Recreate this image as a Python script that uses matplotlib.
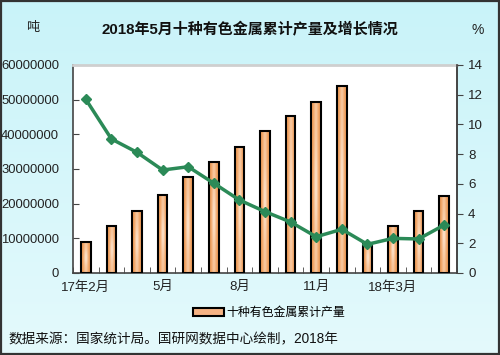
import numpy as np
import matplotlib
matplotlib.use("Agg")
import matplotlib.pyplot as plt
from matplotlib.patches import Rectangle
from matplotlib.colors import to_rgb

plt.rcParams['font.family'] = ['Liberation Sans', 'Noto Sans CJK SC', 'DejaVu Sans']

# ---- data ----
categories = ['17年2月', '3月', '4月', '5月', '6月', '7月', '8月', '9月', '10月',
              '11月', '12月', '18年2月', '3月', '4月', '5月']
production = [8850000, 13560000, 17970000, 22600000, 27800000, 32100000, 36300000,
              40900000, 45200000, 49400000, 53900000, 8700000, 13600000, 17900000, 22200000]
growth = [11.69, 9.02, 8.12, 6.93, 7.15, 6.04, 4.91, 4.13, 3.43, 2.44, 2.94,
          1.93, 2.33, 2.29, 3.23]
tick_idx = [0, 3, 6, 9, 12]
tick_labels = ['17年2月', '5月', '8月', '11月', '18年3月']
left_ticks = [0, 10000000, 20000000, 30000000, 40000000, 50000000, 60000000]
right_ticks = [0, 2, 4, 6, 8, 10, 12, 14]

title = '2018年5月十种有色金属累计产量及增长情况'
legend_label = '十种有色金属累计产量'
footer = '数据来源：国家统计局。国研网数据中心绘制，2018年'

fig = plt.figure(figsize=(5.0, 3.55), dpi=100)

# background gradient
bg = fig.add_axes([0, 0, 1, 1], zorder=-10)
bg.axis('off')
top_c = np.array(to_rgb('#c9f3f9'))
bot_c = np.array(to_rgb('#e4fafc'))
t = np.linspace(0, 1, 256)[:, None, None]
grad = top_c * (1 - t) + bot_c * t
grad = np.repeat(grad, 4, axis=1)
bg.imshow(grad, aspect='auto', extent=[0, 1, 0, 1])
bg.set_xlim(0, 1); bg.set_ylim(0, 1)
bg.add_patch(Rectangle((0.002, 0.003), 0.996, 0.994, fill=False, ec='#333333', lw=1.6,
                       transform=bg.transAxes))

ax = fig.add_axes([0.146, 0.231, 0.768, 0.586])
ax.set_facecolor('white')
x = np.arange(len(categories))
bw = 0.38
bars = ax.bar(x, production, width=bw, facecolor='none', edgecolor='black', lw=1.5, zorder=3)

# orange gradient for bars
edge_c = np.array(to_rgb('#ef9a55'))
mid_c = np.array(to_rgb('#fde3cc'))
xs = np.linspace(-1, 1, 40)
hx = np.exp(-(xs / 0.45) ** 2)
ys = np.linspace(-1, 1, 100)
hy = 0.6 + 0.4 * np.exp(-(ys / 0.5) ** 2)
w = (hx[None, :] * hy[:, None])[:, :, None]
img = edge_c * (1 - w) + mid_c * w
for r in bars:
    ax.imshow(img, aspect='auto', extent=[r.get_x(), r.get_x() + r.get_width(), 0, r.get_height()],
              zorder=2, interpolation='bilinear')

ax.set_xlim(-0.5, len(categories) - 0.5)
ax.set_ylim(0, 60000000)
ax.set_yticks(left_ticks)
ax.set_yticklabels([str(v) for v in left_ticks], fontsize=9.4, color='#222222')
ax.set_xticks(tick_idx)
ax.set_xticklabels(tick_labels, fontsize=9.6, color='#222222')
ax.set_xticks(np.arange(-0.5, len(categories), 1), minor=True)
ax.tick_params(axis='x', which='major', length=0, pad=6)
ax.tick_params(axis='x', which='minor', length=4, direction='in', color='#444444')
ax.tick_params(axis='y', length=4, direction='in', color='#444444', pad=10)
ax.spines['top'].set_color('#cfcfcf')
ax.spines['top'].set_linewidth(2)
for s in ['left', 'bottom', 'right']:
    ax.spines[s].set_color('#444444')
    ax.spines[s].set_linewidth(1.2)

ax2 = ax.twinx()
ax2.plot(x, growth, color='#2b8a57', lw=2.5, marker='D', ms=5, zorder=5)
ax2.set_ylim(0, 14)
ax2.set_yticks(right_ticks)
ax2.set_yticklabels([str(v) for v in right_ticks], fontsize=9.6, color='#222222')
ax2.tick_params(axis='y', length=4, direction='out', color='#444444', pad=4)
ax2.spines['top'].set_visible(False)
ax2.spines['right'].set_color('#444444')
ax2.spines['right'].set_linewidth(1.2)
ax2.spines['left'].set_visible(False)
ax2.spines['bottom'].set_visible(False)

# titles
fig.text(0.5, 0.915, title, ha='center', va='center', fontsize=10.8, fontweight='bold', color='#111111')
fig.text(0.066, 0.92, '吨', ha='center', va='center', fontsize=9.5, color='#222222')
fig.text(0.955, 0.915, '%', ha='center', va='center', fontsize=10, color='#222222')

# legend
leg = fig.legend([Rectangle((0, 0), 1, 1, fc='#f5b384', ec='black', lw=1.5)], [legend_label],
                 loc='center', bbox_to_anchor=(0.538, 0.118), frameon=False, fontsize=8.6,
                 handlelength=2.6, handleheight=0.6, handletextpad=0.2)

fig.text(0.016, 0.045, footer, ha='left', va='center', fontsize=9.8, color='#111111')

fig.savefig('out.png', dpi=100)
